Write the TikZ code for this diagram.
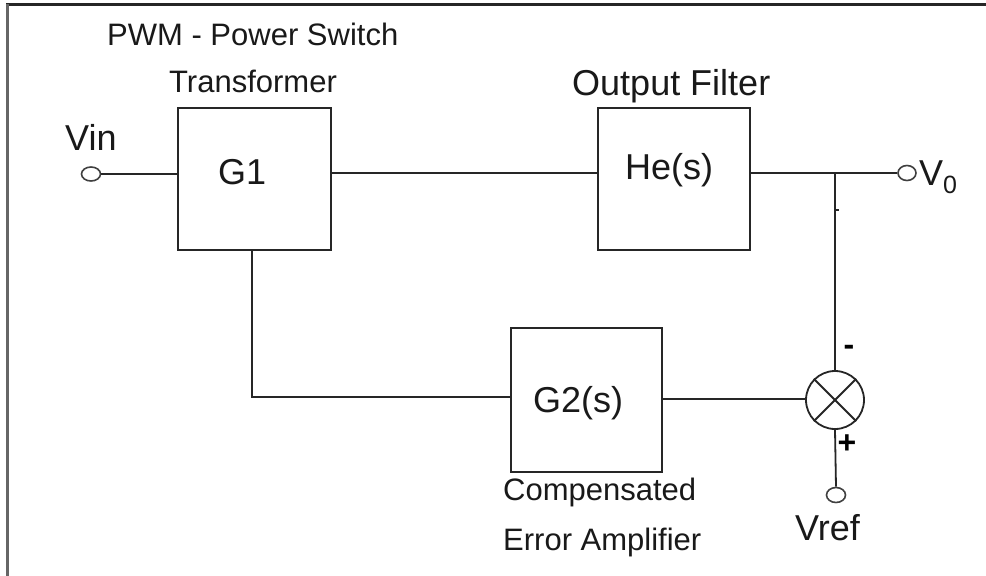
\documentclass[tikz,border=0pt]{standalone}
\usepackage{fontspec}
\setmainfont{Liberation Sans}
\usetikzlibrary{shapes.geometric}
\begin{document}
\begin{tikzpicture}[x=1pt,y=-1pt,
  wire/.style={line width=1.8pt, draw=black!85},
  blockbox/.style={draw=black!85, line width=1.8pt, rectangle, inner sep=0pt},
  term/.style={draw=black!75, line width=1.6pt, ellipse, inner sep=0pt, fill=white},
  bigtxt/.style={inner sep=0pt, anchor=base west, font=\fontsize{36}{40}\selectfont, text=black!90},
  smalltxt/.style={inner sep=0pt, anchor=base west, font=\fontsize{31}{36}\selectfont, text=black!90},
  signtxt/.style={inner sep=0pt, anchor=center, font=\bfseries\fontsize{32}{36}\selectfont}
]
\useasboundingbox (0,0) rectangle (986,576);
\fill[white] (0,0) rectangle (986,576);
% frame
\draw[line width=3pt, black!85] (6,4) -- (986,4);
\draw[line width=3pt, black!60] (7,4) -- (7,576);

% blocks
\node[blockbox, minimum width=153pt, minimum height=142pt] (g1) at (254.5,179) {};
\node[blockbox, minimum width=152pt, minimum height=142pt] (he) at (674,179) {};
\node[blockbox, minimum width=151pt, minimum height=144pt] (g2) at (586.5,400) {};
\node[draw=black!85, line width=1.8pt, circle, minimum size=58pt, inner sep=0pt] (sum) at (835,400) {};
\draw[wire] (sum.north west) -- (sum.south east);
\draw[wire] (sum.north east) -- (sum.south west);

% terminals
\node[term, minimum width=19pt, minimum height=14pt] (vin) at (91,174) {};
\node[term, minimum width=18pt, minimum height=15pt] (vo) at (907,173) {};
\node[term, minimum width=19pt, minimum height=15pt] (vref) at (836,495) {};
\coordinate (jn) at (835,173);

% block labels
\node[bigtxt] (g1t) at (218,184) {G1};
\node[bigtxt] (het) at (625,179) {He(s)};
\node[bigtxt] (g2t) at (533,412) {G2(s)};

% descriptive labels
\node[smalltxt] (pwm) at (107,45) {PWM - Power Switch};
\node[smalltxt] (tr) at (169,92) {Transformer};
\node[bigtxt] (of) at (572,95) {Output Filter};
\node[smalltxt] (comp) at (503,500) {Compensated};
\node[smalltxt] (err) at (503,550) {Error Amplifier};
\node[bigtxt] (vint) at (65,150) {Vin};
\node[bigtxt] (vreft) at (795,540) {Vref};
\node[bigtxt] (vot) at (919,185) {V\raisebox{-8pt}{\fontsize{25}{28}\selectfont 0}};
\node[signtxt] (minus) at (849,350) {-};
\node[signtxt] (plus) at (847,444) {+};

% connectors
\draw[wire] (vin.east) -- (g1.west |- vin.east);
\draw[wire] ([yshift=6pt]g1.east) -- ([yshift=6pt]he.west);
\draw[wire] ([yshift=6pt]he.east) -- (jn) -- (vo.west);
\draw[wire] (jn) -- (sum.north);
\draw[wire] (835,210) -- (839,210);
\draw[wire] ([xshift=-2.5pt]g1.south) |- ([yshift=3pt]g2.west);
\draw[wire] ([yshift=1pt]g2.east) -- ([yshift=1pt]sum.west);
\draw[wire] (sum.south) -- (vref.north);
\end{tikzpicture}
\end{document}
